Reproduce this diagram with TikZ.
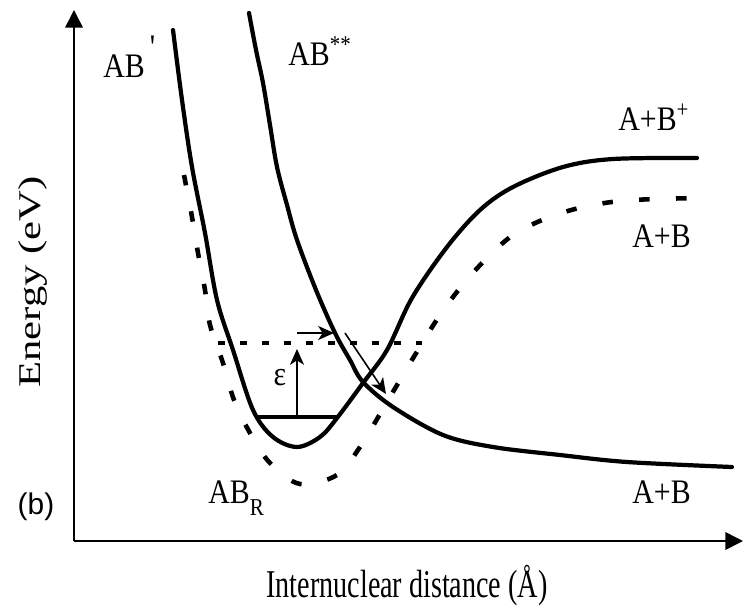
\documentclass[tikz,border=0pt]{standalone}
\usepackage{fontspec}
\setmainfont{Liberation Serif}
\newfontfamily\panelfont{Liberation Sans}
\usetikzlibrary{arrows.meta}

\begin{document}
\begin{tikzpicture}[
  x=0.02cm, y=-0.02cm,
  lbl/.style={inner sep=0pt, anchor=base west, font=\fontsize{17}{20}\selectfont, yscale=1.15},
  axislbl/.style={inner sep=0pt, font=\fontsize{16}{19}\selectfont},
  axis/.style={line width=0.9pt, -{Triangle[length=10pt, width=10pt]}},
  curve/.style={line width=2.4pt, line cap=round},
  dashcurve/.style={line width=2.6pt, dash pattern=on 6pt off 15pt},
  dotline/.style={line width=2.2pt, dash pattern=on 4pt off 8.5pt},
  arr/.style={line width=0.9pt, -{Stealth[length=9pt, width=8pt, inset=2.5pt]}},
]
\useasboundingbox (0,0) rectangle (744,612);

% axes
\coordinate (origin) at (74,541);
\coordinate (ytip) at (74,10);
\coordinate (xtip) at (743,541);
\draw[axis] (origin) -- (ytip);
\draw[axis] (origin) -- (xtip);

\node[axislbl, font=\fontsize{18}{20}\selectfont, rotate=90, xscale=1.35] (ylabel) at (33,282) {Energy (eV)};
\node[axislbl, yscale=1.4, anchor=base] (xlabel) at (407,597) {Internuclear distance (Å)};
\node[inner sep=0pt, font=\panelfont\fontsize{17}{20}\selectfont] (panel) at (36,507) {(b)};

% bound state AB' going to A+B+
\draw[curve] plot[smooth, tension=0.55] coordinates {(173,30) (182,100) (192,167) (205,233)
  (217,300) (233,350) (253,410) (273,437) (297,447) (320,437) (337,418) (363,383)
  (387,350) (412,298) (447,247) (480,210) (513,187) (563,167) (613,159) (697,158)};

% repulsive state AB**
\draw[curve] plot[smooth, tension=0.55] coordinates {(249,13) (256,50) (263,83) (270,125)
  (277,167) (287,205) (297,240) (316,290) (335,333) (350,360) (363,382) (393,407)
  (443,435) (493,447) (560,455) (627,462) (732,467)};

% ground state AB_R
\draw[dashcurve] plot[smooth, tension=0.55] coordinates {(184,175) (192,217) (198,253)
  (205,290) (210,325) (223,363) (234,400) (250,433) (270,463) (300,484) (337,475)
  (360,447) (380,414) (400,380) (418,350) (438,318) (460,288) (485,260) (513,235)
  (547,218) (583,207) (620,201) (657,199) (700,198)};

% vibrational level and excitation
\coordinate (lvlL) at (255,417);
\coordinate (lvlR) at (337,417);
\draw[line width=2pt] (lvlL) -- (lvlR);
\coordinate (dotL) at (218,343);
\coordinate (dotR) at (422,343);
\draw[dotline] (dotL) -- (dotR);

\coordinate (eps0) at (297,417);
\coordinate (eps1) at (297,349);
\draw[arr] (eps0) -- (eps1);
\node[lbl, anchor=center] (eps) at (280,378) {ε};

\coordinate (hop0) at (297,333);
\coordinate (hop1) at (334,333);
\draw[arr] (hop0) -- (hop1);
\coordinate (slide0) at (345,333);
\coordinate (slide1) at (386,394);
\draw[arr] (slide0) -- (slide1);

% state labels
\node[lbl] (abp) at (103,77) {AB\,\raisebox{0.55em}{\textquotesingle}};
\node[lbl] (abss) at (288,65) {AB\textsuperscript{**}};
\node[lbl] (abplus) at (618,130) {A+B\textsuperscript{+}};
\node[lbl] (abup) at (632,247) {A+B};
\node[lbl] (ablow) at (632,503) {A+B};
\node[lbl] (abr) at (208,503) {AB\raisebox{-0.35em}{\fontsize{12}{12}\selectfont R}};

\end{tikzpicture}
\end{document}
